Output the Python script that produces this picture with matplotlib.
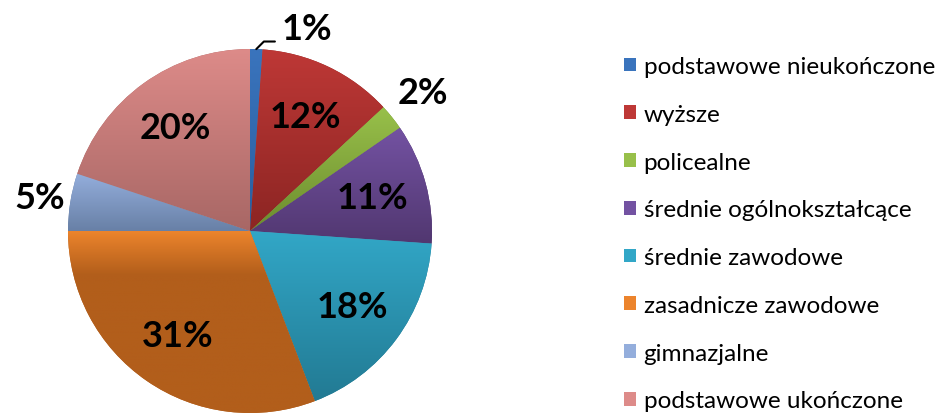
import numpy as np
import matplotlib
matplotlib.use("Agg")
import matplotlib.pyplot as plt
from matplotlib.colors import LinearSegmentedColormap

# dane
categories = ["podstawowe nieukończone", "wyższe", "policealne",
              "średnie ogólnokształcące", "średnie zawodowe",
              "zasadnicze zawodowe", "gimnazjalne", "podstawowe ukończone"]
shares = [1.1, 12.0, 2.3, 10.7, 18.1, 30.8, 5.1, 19.9]

# kolory (góra, dół gradientu)
top_colors = ["#3A74BD", "#BE3836", "#98C04A", "#7352A2", "#32A7C7",
              "#EC842C", "#94AEDC", "#DD8B89"]
bottom_colors = ["#2A5E9E", "#8C2523", "#6C8C2E", "#513770", "#227A93",
                 "#B25E1B", "#6880A6", "#A86765"]
# gdzie kończy się ciemna część gradientu (0 = dół, 1 = góra)
dark_stop = [0, 0, 0, 0, 0, 0.76, 0, 0]
label_dist = [1.0, 0.70, 1.22, 0.70, 0.70, 0.70, 1.17, 0.70]

W, H = 937, 414
cx, cy, R = 250, 232, 182

fig = plt.figure(figsize=(W / 100, H / 100), dpi=100)
ax = fig.add_axes([0, 0, 1, 1])
ax.axis("off")

wedges, _ = ax.pie(shares, startangle=90, counterclock=False,
                   colors=bottom_colors, radius=1.0,
                   wedgeprops=dict(linewidth=0))

# gradient w każdym wycinku
grad = np.linspace(0, 1, 256).reshape(-1, 1)
for w, c1, c2, s in zip(wedges, top_colors, bottom_colors, dark_stop):
    ext = w.get_path().get_extents()
    cmap = LinearSegmentedColormap.from_list("g", [(0, c2), (s, c2), (1, c1)])
    im = ax.imshow(grad, cmap=cmap, origin="lower", aspect="auto",
                   extent=[ext.x0, ext.x1, ext.y0, ext.y1], zorder=2)
    im.set_clip_path(w)

lab_font = dict(family=["Lato", "DejaVu Sans"], weight="bold", fontsize=26)
for i, w in enumerate(wedges):
    ang = np.deg2rad((w.theta1 + w.theta2) / 2)
    txt = f"{round(shares[i]):.0f}%"
    if i == 0:
        xy = (np.cos(ang), np.sin(ang))
        ax.annotate(txt, xy=xy, xytext=(0.175, 1.11), ha="left", va="center",
                    arrowprops=dict(arrowstyle="-", color="black", lw=1.5,
                                    shrinkA=3, shrinkB=0, relpos=(0, 0.12),
                                    connectionstyle="angle,angleA=0,angleB=45,rad=0"),
                    zorder=5, **lab_font)
        continue
    d = label_dist[i]
    ax.text(d * np.cos(ang), d * np.sin(ang), txt, ha="center", va="center",
            zorder=5, **lab_font)

ax.set_aspect("equal")
ax.set_xlim(-cx / R, (W - cx) / R)
ax.set_ylim((cy - H) / R, cy / R)

leg = ax.legend(wedges, categories, loc="upper left",
                bbox_to_anchor=(612 / W, 1 - 45 / H), frameon=False,
                prop=dict(family=["Lato", "DejaVu Sans"], size=17.5),
                handlelength=0.5, handleheight=0.5, handletextpad=0.3,
                labelspacing=1.1, borderpad=0)
for h, c in zip(leg.legend_handles, top_colors):
    h.set_facecolor(c)

fig.savefig("out.png", dpi=100)
